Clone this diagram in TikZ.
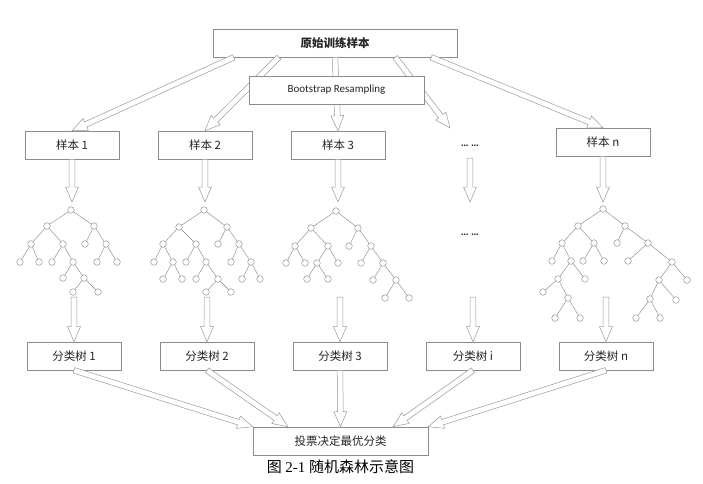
\documentclass[tikz,border=0pt]{standalone}
\usepackage{fontspec}
\setmainfont{Carlito}
\newfontfamily\zhfont{Noto Sans CJK SC}
\newfontfamily\capserif{Liberation Serif}
\usetikzlibrary{calc}

\begin{document}
\begin{tikzpicture}[x=1pt,y=-1pt,font=\zhfont\fontsize{11.5}{13}\selectfont,text=black!85,
box/.style={rectangle,draw=black!45,fill=white,line width=0.6pt,minimum width=94pt,minimum height=28pt,inner sep=0pt},
wide/.style={box,minimum width=175pt},
leaf/.style={circle,draw=black!50,line width=0.4pt,minimum size=6.6pt,inner sep=0pt},
branch/.style={draw=black!50,line width=0.4pt},
ellip/.style={font=\fontsize{11}{13}\selectfont\bfseries},
harrow/.style={draw=black!40,fill=white,line width=0.5pt,
  to path={let \p1=(\tikztostart),\p2=(\tikztotarget),\n1={atan2(\y2-\y1,\x2-\x1)} in
  ($(\p1)+(\n1+90:2.8pt)$) -- ($(\p2)+(\n1+180:15pt)+(\n1+90:2.8pt)$) -- ($(\p2)+(\n1+180:15pt)+(\n1+90:6.5pt)$)
  -- (\p2) -- ($(\p2)+(\n1+180:15pt)+(\n1-90:6.5pt)$) -- ($(\p2)+(\n1+180:15pt)+(\n1-90:2.8pt)$)
  -- ($(\p1)+(\n1-90:2.8pt)$) -- cycle}}]
\useasboundingbox (0,0) rectangle (703,483);

\node[box,minimum width=244pt,font=\zhfont\bfseries\fontsize{11.5}{13}\selectfont] (t) at (335,43) {原始训练样本};
\node[box] (s1) at (72,145) {样本 1};
\node[box] (s2) at (205,145) {样本 2};
\node[box] (s3) at (338,145) {样本 3};
\node[ellip] (d1) at (470,146) {… …};
\node[box] (sn) at (603,142) {样本 n};

\coordinate (t1) at ($(t.south west)!0.086!(t.south east)$);
\coordinate (t2) at ($(t.south west)!0.27!(t.south east)$);
\coordinate (t4) at ($(t.south west)!0.746!(t.south east)$);
\coordinate (t5) at ($(t.south west)!0.893!(t.south east)$);
\coordinate (e4) at (450,128);
\draw[harrow] (t1) to (s1.north);
\draw[harrow] (t2) to (s2.north);
\draw[harrow] (t.south) to (s3.north);
\draw[harrow] (t4) to (e4);
\draw[harrow] (t5) to (sn.north);

\node[wide,font=\fontsize{11}{13}\selectfont] (bs) at (336.5,90) {Bootstrap Resampling};

\coordinate (r1) at (72,202);
\coordinate (r2) at (205,202);
\coordinate (r3) at (338,202);
\coordinate (q4) at (470,158);
\coordinate (r4) at (470,202);
\coordinate (rn) at (603,202);
\draw[harrow] (s1.south) to (r1);
\draw[harrow] (s2.south) to (r2);
\draw[harrow] (s3.south) to (r3);
\draw[harrow] (q4) to (r4);
\draw[harrow] (sn.south) to (rn);

\foreach \n/\x/\y in {a0/71/210,a1/47/226,a2/94/226,a3/31/244,a4/63/244,a5/85/244,a6/106/244,
  a7/20/262,a8/39/262,a9/52/262,a10/73/262,a11/97/262,a12/117/262,a13/63/278,a14/84/278,a15/73/292,a16/98/292,
  b0/204/210,b1/179/227,b2/227/227,b3/163/244,b4/196/244,b5/218/244,b6/239/244,
  b7/154/262,b8/173/262,b9/186/262,b10/206/262,b11/231/262,b12/251/262,
  b13/163/279,b14/182/279,b15/196/279,b16/218/279,b17/242/279,b18/260/279,b19/206/292,b20/231/292,
  c0/336/211,c1/311/228,c2/358/228,c3/295/246,c4/328/246,c5/349/246,c6/371/246,
  c7/286/263,c8/305/263,c9/317/263,c10/338/263,c11/361/263,c12/383/263,
  c13/307/279,c14/328/279,c15/373/280,c16/396/280,c17/385/298,c18/409/298,
  n0/603/209,n1/578/226,n2/625/226,n3/562/243,n4/594/243,n5/617/243,n6/648/243,
  n7/552/261,n8/571/261,n9/583/261,n10/604/261,n11/628/261,n12/672/262,
  n13/558/279,n14/585/279,n15/659/280,n16/687/280,n17/543/292,n18/568/298,n19/650/299,n20/676/300,
  n21/555/318,n22/580/318,n23/636/318,n24/660/318}
  \node[leaf] (\n) at (\x,\y) {};
\foreach \u/\v in {a0/a1,a0/a2,a1/a3,a1/a4,a2/a5,a2/a6,a3/a7,a3/a8,a4/a9,a4/a10,a6/a11,a6/a12,
  a10/a13,a10/a14,a14/a15,a14/a16,
  b0/b1,b0/b2,b1/b3,b1/b4,b2/b5,b2/b6,b3/b7,b3/b8,b4/b9,b4/b10,b6/b11,b6/b12,
  b8/b13,b8/b14,b10/b15,b10/b16,b12/b17,b12/b18,b16/b19,b16/b20,
  c0/c1,c0/c2,c1/c3,c1/c4,c2/c5,c2/c6,c3/c7,c3/c8,c4/c9,c4/c10,c6/c11,c6/c12,
  c9/c13,c9/c14,c12/c15,c12/c16,c16/c17,c16/c18,
  n0/n1,n0/n2,n1/n3,n1/n4,n2/n5,n2/n6,n3/n7,n3/n8,n4/n9,n4/n10,n6/n11,n6/n12,
  n8/n13,n8/n14,n12/n15,n12/n16,n13/n17,n13/n18,n15/n19,n15/n20,n18/n21,n18/n22,n19/n23,n19/n24}
  \draw[branch] (\u)--(\v);

\node[ellip] (d2) at (470,235) {… …};

\node[box] (f1) at (74,356) {分类树 1};
\node[box] (f2) at (207,356) {分类树 2};
\node[box] (f3) at (340,356) {分类树 3};
\node[box] (fi) at (473,356) {分类树 i};
\node[box] (fn) at (606,356) {分类树 n};

\coordinate (g1) at (74,297);
\coordinate (g2) at (207,297);
\coordinate (g3) at (340,297);
\coordinate (gi) at (473,297);
\coordinate (gn) at (606,297);
\draw[harrow] (g1) to (f1.north);
\draw[harrow] (g2) to (f2.north);
\draw[harrow] (g3) to (f3.north);
\draw[harrow] (gi) to (fi.north);
\draw[harrow] (gn) to (fn.north);

\node[wide] (v) at (340.5,441) {投票决定最优分类};
\coordinate (v2) at ($(v.north west)!0.2!(v.north east)$);
\coordinate (v4) at ($(v.north west)!0.8!(v.north east)$);
\draw[harrow] (f1.south) to (v.north west);
\draw[harrow] (f2.south) to (v2);
\draw[harrow] (f3.south) to (v.north);
\draw[harrow] (fi.south) to (v4);
\draw[harrow] (fn.south) to (v.north east);

\node[font=\fontsize{15}{17}\selectfont,text=black] (cap) at (340.5,467) {\zhfont 图 \capserif 2-1 \zhfont 随机森林示意图};
\end{tikzpicture}
\end{document}
